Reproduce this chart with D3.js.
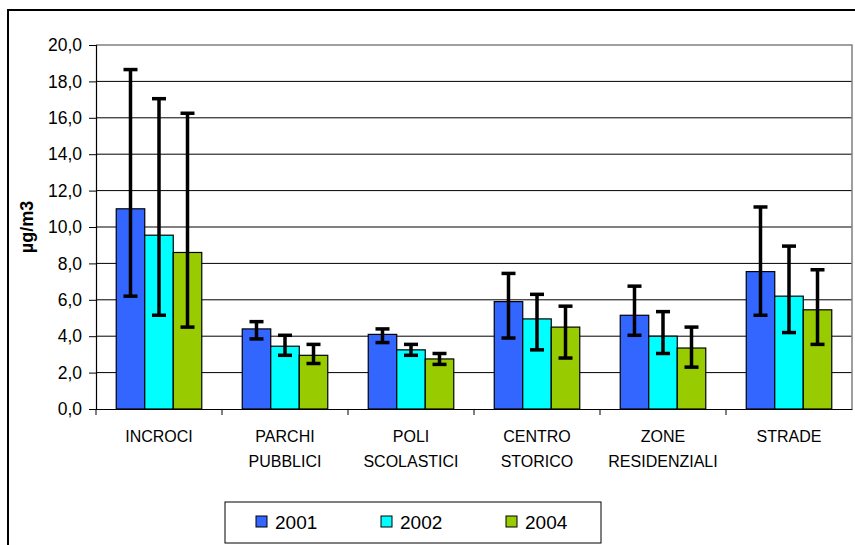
<!DOCTYPE html>
<html>
<head>
<meta charset="utf-8">
<script src="https://cdn.jsdelivr.net/npm/d3@7"></script>
<style>
  body { margin: 0; background: #fff; }
  text { font-family: Arial, "Liberation Sans", sans-serif; fill: #000; }
</style>
</head>
<body>
<svg id="chart" width="855" height="545"></svg>
<script>
// categories (second line of label after "|")
const categories = ["INCROCI", "PARCHI|PUBBLICI", "POLI|SCOLASTICI", "CENTRO|STORICO", "ZONE|RESIDENZIALI", "STRADE"];
const years = ["2001", "2002", "2004"];
const colors = ["#3366FF", "#00FFFF", "#99CC00"];

// mean values per year
const values2001 = [11.0, 4.4, 4.1, 5.9, 5.15, 7.55];
const values2002 = [9.55, 3.45, 3.25, 4.95, 4.0, 6.2];
const values2004 = [8.6, 2.95, 2.75, 4.5, 3.35, 5.45];

// error bar ends (low / high)
const low2001 = [6.2, 3.85, 3.65, 3.9, 4.05, 5.15];
const high2001 = [18.65, 4.8, 4.4, 7.45, 6.75, 11.1];
const low2002 = [5.15, 2.95, 2.95, 3.25, 3.05, 4.2];
const high2002 = [17.05, 4.05, 3.55, 6.3, 5.35, 8.95];
const low2004 = [4.5, 2.5, 2.45, 2.8, 2.3, 3.55];
const high2004 = [16.25, 3.55, 3.05, 5.65, 4.5, 7.65];

const yTicks = [0, 2, 4, 6, 8, 10, 12, 14, 16, 18, 20];

const series = [
    { year: years[0], vals: values2001, lo: low2001, hi: high2001 },
    { year: years[1], vals: values2002, lo: low2002, hi: high2002 },
    { year: years[2], vals: values2004, lo: low2004, hi: high2004 }
];

const svg = d3.select("#chart");

// outer chart frame (runs off the right and bottom)
svg.append("rect")
    .attr("x", 8).attr("y", 10)
    .attr("width", 870).attr("height", 560)
    .attr("fill", "none").attr("stroke", "#000").attr("stroke-width", 2);

const plotLeft = 96, plotRight = 852, plotTop = 45, plotBottom = 409;

const x = d3.scaleBand().domain(categories).range([plotLeft, plotRight]).paddingInner(0).paddingOuter(0);
const xInner = d3.scaleBand().domain(years).range([0, x.bandwidth()]).paddingOuter(0.71);
const y = d3.scaleLinear().domain([0, 20]).range([plotBottom, plotTop]);

// grid
svg.append("g").selectAll("line")
    .data(yTicks.filter(t => t > 0 && t < 20))
    .enter().append("line")
    .attr("x1", plotLeft).attr("x2", plotRight)
    .attr("y1", d => y(d)).attr("y2", d => y(d))
    .attr("stroke", "#000").attr("stroke-width", 1);

// plot area border (top + right, gray)
svg.append("path")
    .attr("d", `M${plotLeft},${y(20)}H${plotRight}V${plotBottom}`)
    .attr("fill", "none").attr("stroke", "#808080").attr("stroke-width", 1.5);

// bars
const groups = svg.append("g").selectAll("g")
    .data(series)
    .enter().append("g");

groups.selectAll("rect")
    .data((s, si) => s.vals.map((v, i) => ({ cat: categories[i], v, year: s.year, si })))
    .enter().append("rect")
    .attr("x", d => x(d.cat) + xInner(d.year))
    .attr("y", d => y(d.v))
    .attr("width", xInner.bandwidth())
    .attr("height", d => y(0) - y(d.v))
    .attr("fill", d => colors[d.si])
    .attr("stroke", "#000").attr("stroke-width", 1.2);

// error bars
const errs = [];
series.forEach(s => s.vals.forEach((v, i) => errs.push({ cat: categories[i], year: s.year, lo: s.lo[i], hi: s.hi[i] })));
const cx = d => x(d.cat) + xInner(d.year) + xInner.bandwidth() / 2;
const eg = svg.append("g").attr("stroke", "#000").attr("stroke-width", 3.5);
eg.selectAll("line.v").data(errs).enter().append("line")
    .attr("class", "v")
    .attr("x1", cx).attr("x2", cx)
    .attr("y1", d => y(d.lo)).attr("y2", d => y(d.hi));
eg.selectAll("line.h").data(errs).enter().append("line")
    .attr("class", "h")
    .attr("x1", d => cx(d) - 7).attr("x2", d => cx(d) + 7)
    .attr("y1", d => y(d.hi)).attr("y2", d => y(d.hi));
eg.selectAll("line.l").data(errs).enter().append("line")
    .attr("class", "l")
    .attr("x1", d => cx(d) - 7).attr("x2", d => cx(d) + 7)
    .attr("y1", d => y(d.lo)).attr("y2", d => y(d.lo));

// y axis
const yAxis = svg.append("g")
    .attr("transform", `translate(${plotLeft},0)`)
    .call(d3.axisLeft(y).tickValues(yTicks).tickSize(7).tickPadding(7)
        .tickFormat(d => d3.format(".1f")(d).replace(".", ",")));
yAxis.select(".domain").attr("stroke", "#000").attr("stroke-width", 1.2);
yAxis.selectAll(".tick line").attr("stroke", "#000");
yAxis.selectAll("text").attr("font-size", 17.5).attr("font-family", "Arial, 'Liberation Sans', sans-serif");

// x axis
const xAxis = svg.append("g")
    .attr("transform", `translate(0,${plotBottom})`)
    .call(d3.axisBottom(x).tickSize(0).tickFormat(""));
xAxis.select(".domain").attr("stroke", "#000").attr("stroke-width", 1.2);
xAxis.selectAll(".tick").remove();
svg.append("g").selectAll("line")
    .data(categories)
    .enter().append("line")
    .attr("x1", d => x(d)).attr("x2", d => x(d))
    .attr("y1", plotBottom).attr("y2", plotBottom + 6)
    .attr("stroke", "#000");

// category labels
const labels = svg.append("g").selectAll("text")
    .data(categories)
    .enter().append("text")
    .attr("text-anchor", "middle")
    .attr("font-size", 16)
    .attr("x", d => x(d) + x.bandwidth() / 2)
    .attr("y", 442);
labels.each(function (d) {
    const parts = d.split("|");
    const t = d3.select(this);
    parts.forEach((p, i) => t.append("tspan")
        .attr("x", x(d) + x.bandwidth() / 2)
        .attr("dy", i === 0 ? 0 : 25)
        .text(p));
});

// y axis title
svg.append("text")
    .attr("transform", "translate(33,227) rotate(-90)")
    .attr("text-anchor", "middle")
    .attr("font-size", 18).attr("font-weight", "bold")
    .text("µg/m3");

// legend
const legend = svg.append("g");
legend.append("rect")
    .attr("x", 225).attr("y", 502).attr("width", 376).attr("height", 41)
    .attr("fill", "#fff").attr("stroke", "#000").attr("stroke-width", 1);
const li = legend.selectAll("g")
    .data(years)
    .enter().append("g")
    .attr("transform", (d, i) => `translate(${256 + i * 125},0)`);
li.append("rect")
    .attr("x", 0).attr("y", 516).attr("width", 11).attr("height", 11)
    .attr("fill", (d, i) => colors[i]).attr("stroke", "#000");
li.append("text")
    .attr("x", 19).attr("y", 529)
    .attr("font-size", 19)
    .text(d => d);
</script>
</body>
</html>
